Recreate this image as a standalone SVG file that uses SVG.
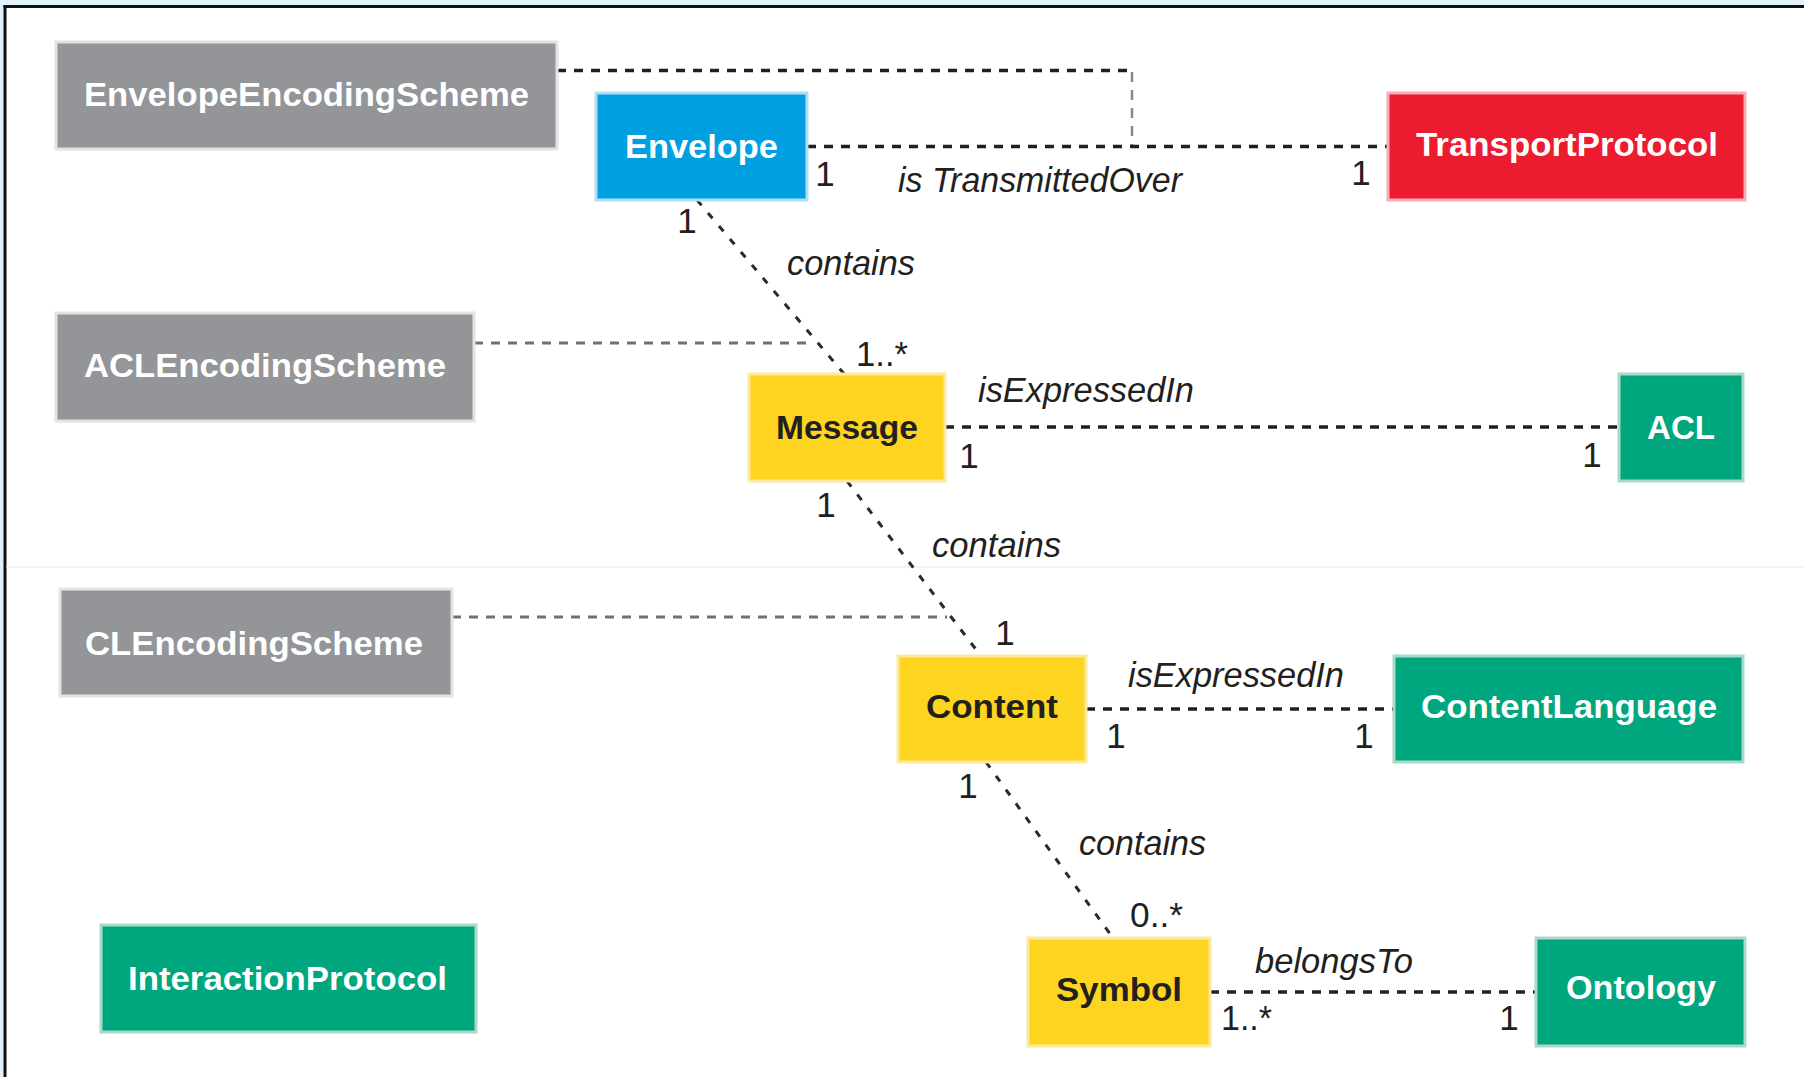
<svg xmlns="http://www.w3.org/2000/svg" width="1804" height="1077" viewBox="0 0 1804 1077">
  <style>
    .box { stroke-width: 3; }
    .grey { fill: #939598; stroke: #e3e3e4; }
    .blue { fill: #009fdf; stroke: #b3ddf4; }
    .red { fill: #ed1b2f; stroke: #f7adb4; }
    .green { fill: #00a67e; stroke: #aad9c9; }
    .yellow { fill: #fdd41f; stroke: #fde8a0; }
    .name { font-family: "Liberation Sans", Arial, sans-serif; font-weight: bold; font-size: 34px; }
    .light { fill: #ffffff; }
    .dark { fill: #231f20; }
    .lbl { font-family: "Liberation Sans", Arial, sans-serif; font-style: italic; font-size: 35px; fill: #231f20; }
    .mult { font-family: "Liberation Sans", Arial, sans-serif; font-size: 35px; fill: #231f20; text-anchor: middle; }
    .range { font-family: "Liberation Sans", Arial, sans-serif; font-size: 35px; fill: #231f20; }
    .assoc { fill: none; stroke: #231f20; stroke-width: 3.5; stroke-dasharray: 9 8; }
    .diag { fill: none; stroke: #2b2b2b; stroke-width: 3; stroke-dasharray: 7 10; }
    .scheme { fill: none; stroke: #707072; stroke-width: 3; stroke-dasharray: 9 8; }
    .schemev { fill: none; stroke: #8a8a8a; stroke-width: 2.5; stroke-dasharray: 10 8; }
  </style>

  <!-- page background and frame -->
  <rect x="0" y="0" width="1804" height="1077" fill="#ffffff"/>
  <rect x="0" y="0" width="1804" height="5" fill="#dff1fb"/>
  <rect x="0" y="0" width="3.5" height="1077" fill="#dff1fb"/>
  <line x1="3.5" y1="6.5" x2="1804" y2="6.5" stroke="#111111" stroke-width="3"/>
  <line x1="5" y1="5" x2="5" y2="1077" stroke="#111111" stroke-width="3"/>
  <line x1="6.5" y1="567" x2="1804" y2="567" stroke="#f1f1f1" stroke-width="1.5"/>

  <!-- associations -->
  <g id="connectors">
    <polyline class="assoc" points="557,70.5 1132,70.5"/>
    <polyline class="schemev" points="1132,72 1132,146"/>
    <line class="assoc" x1="807" y1="146.5" x2="1388" y2="146.5"/>
    <line class="diag" x1="697" y1="200" x2="845" y2="375"/>
    <line class="scheme" x1="474" y1="343" x2="808" y2="343"/>
    <line class="assoc" x1="945" y1="427" x2="1619" y2="427"/>
    <line class="diag" x1="847" y1="481" x2="981" y2="656"/>
    <line class="scheme" x1="452" y1="617" x2="947" y2="617"/>
    <line class="assoc" x1="1086" y1="709" x2="1394" y2="709"/>
    <line class="diag" x1="986" y1="762" x2="1113" y2="938"/>
    <line class="assoc" x1="1210" y1="992" x2="1536" y2="992"/>

    <!-- role names and multiplicities -->
    <text class="mult" x="825" y="186">1</text>
    <text class="lbl" x="898" y="192" textLength="284" lengthAdjust="spacingAndGlyphs">is TransmittedOver</text>
    <text class="mult" x="1361" y="185">1</text>
    <text class="mult" x="687" y="233">1</text>
    <text class="lbl" x="787" y="275" textLength="128" lengthAdjust="spacingAndGlyphs">contains</text>
    <text class="range" x="856" y="366" textLength="52" lengthAdjust="spacingAndGlyphs">1..*</text>
    <text class="lbl" x="978" y="402" textLength="216" lengthAdjust="spacingAndGlyphs">isExpressedIn</text>
    <text class="mult" x="969" y="468">1</text>
    <text class="mult" x="1592" y="467">1</text>
    <text class="mult" x="826" y="517">1</text>
    <text class="lbl" x="932" y="557" textLength="129" lengthAdjust="spacingAndGlyphs">contains</text>
    <text class="mult" x="1005" y="645">1</text>
    <text class="lbl" x="1128" y="687" textLength="216" lengthAdjust="spacingAndGlyphs">isExpressedIn</text>
    <text class="mult" x="1116" y="748">1</text>
    <text class="mult" x="1364" y="748">1</text>
    <text class="mult" x="968" y="798">1</text>
    <text class="lbl" x="1079" y="855" textLength="127" lengthAdjust="spacingAndGlyphs">contains</text>
    <text class="range" x="1130" y="927" textLength="53" lengthAdjust="spacingAndGlyphs">0..*</text>
    <text class="lbl" x="1255" y="973" textLength="158" lengthAdjust="spacingAndGlyphs">belongsTo</text>
    <text class="range" x="1221" y="1030" textLength="51" lengthAdjust="spacingAndGlyphs">1..*</text>
    <text class="mult" x="1509" y="1030">1</text>
  </g>

  <!-- classes -->
  <g id="EnvelopeEncodingScheme">
    <rect class="box grey" x="56" y="42" width="501" height="107"/>
    <text class="name light" x="84" y="106" textLength="445" lengthAdjust="spacingAndGlyphs">EnvelopeEncodingScheme</text>
  </g>
  <g id="Envelope">
    <rect class="box blue" x="596" y="93" width="211" height="107"/>
    <text class="name light" x="625" y="158" textLength="153" lengthAdjust="spacingAndGlyphs">Envelope</text>
  </g>
  <g id="TransportProtocol">
    <rect class="box red" x="1388" y="93" width="357" height="107"/>
    <text class="name light" x="1416" y="156" textLength="302" lengthAdjust="spacingAndGlyphs">TransportProtocol</text>
  </g>
  <g id="ACLEncodingScheme">
    <rect class="box grey" x="56" y="313" width="418" height="108"/>
    <text class="name light" x="84" y="377" textLength="362" lengthAdjust="spacingAndGlyphs">ACLEncodingScheme</text>
  </g>
  <g id="Message">
    <rect class="box yellow" x="749" y="374" width="196" height="107"/>
    <text class="name dark" x="776" y="439" textLength="142" lengthAdjust="spacingAndGlyphs">Message</text>
  </g>
  <g id="ACL">
    <rect class="box green" x="1619" y="374" width="124" height="107"/>
    <text class="name light" x="1647" y="439" textLength="68" lengthAdjust="spacingAndGlyphs">ACL</text>
  </g>
  <g id="CLEncodingScheme">
    <rect class="box grey" x="60" y="589" width="392" height="107"/>
    <text class="name light" x="85" y="655" textLength="338" lengthAdjust="spacingAndGlyphs">CLEncodingScheme</text>
  </g>
  <g id="Content">
    <rect class="box yellow" x="898" y="656" width="188" height="106"/>
    <text class="name dark" x="926" y="718" textLength="132" lengthAdjust="spacingAndGlyphs">Content</text>
  </g>
  <g id="ContentLanguage">
    <rect class="box green" x="1394" y="656" width="349" height="106"/>
    <text class="name light" x="1421" y="718" textLength="296" lengthAdjust="spacingAndGlyphs">ContentLanguage</text>
  </g>
  <g id="InteractionProtocol">
    <rect class="box green" x="101" y="925" width="375" height="107"/>
    <text class="name light" x="128" y="990" textLength="319" lengthAdjust="spacingAndGlyphs">InteractionProtocol</text>
  </g>
  <g id="Symbol">
    <rect class="box yellow" x="1028" y="938" width="182" height="108"/>
    <text class="name dark" x="1056" y="1001" textLength="126" lengthAdjust="spacingAndGlyphs">Symbol</text>
  </g>
  <g id="Ontology">
    <rect class="box green" x="1536" y="938" width="209" height="108"/>
    <text class="name light" x="1566" y="999" textLength="150" lengthAdjust="spacingAndGlyphs">Ontology</text>
  </g>
</svg>
